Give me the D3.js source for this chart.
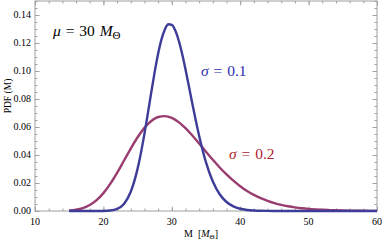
<html>
<style>
  body { margin:0; background:#fff; }
</style>
<script src="https://d3js.org/d3.v7.min.js" charset="utf-8"></script>
<body>
<div class="chart"></div>
<script>
  // data
  var massA = [15,16,17,18,19,20,21,22,23,24,25,26,26.5,27,27.5,28,28.5,29,29.5,30,30.5,31,31.5,32,32.5,33,33.5,34,35,36,37,38,39,40,41,42,43,44,45,46,48,50,55,60];
  var pdfSigma01 = [0,0,0,0,0.000006,0.00005,0.00033,0.00148,0.00508,0.01379,0.03028,0.05511,0.06975,0.08482,0.09935,0.11231,0.12273,0.12988,0.13334,0.13298,0.12903,0.12196,0.11244,0.10123,0.08911,0.07676,0.06479,0.05361,0.03474,0.02103,0.01196,0.00642,0.00327,0.00159,0.00074,0.00033,0.00014,0.00006,0.00002,0,0,0,0,0];
  var massB = d3.range(15, 61);
  var pdfSigma02 = [0.00033,0.00089,0.00208,0.00425,0.00774,0.01278,0.01937,0.02723,0.03589,0.04460,0.05266,0.05939,0.06431,0.06713,0.06780,0.06649,0.06349,0.05917,0.05396,0.04823,0.04234,0.03657,0.03111,0.02611,0.02164,0.01772,0.01427,0.01154,0.00918,0.00725,0.00568,0.00442,0.00342,0.00263,0.00201,0.00153,0.00116,0.00087,0.00066,0.00049,0.00037,0.00027,0.00020,0.00015,0.00011,0.00008];
  var xTicks = [10,20,30,40,50,60];
  var yTicks = [0,0.02,0.04,0.06,0.08,0.10,0.12,0.14];

  //************************************************************
  // Configuration
  //************************************************************
  var W = 382, H = 242;
  var margin = { top: 1, right: 5, bottom: 31, left: 35 };
  var width = W - margin.left - margin.right;
  var height = H - margin.top - margin.bottom;
  var serif = "'Liberation Serif', 'Times New Roman', Times, 'DejaVu Serif', serif";

  var svg = d3.select(".chart").append("svg")
      .attr("width", W)
      .attr("height", H)
      .attr("font-family", serif);

  var g = svg.append("g")
      .attr("transform", "translate(" + margin.left + "," + margin.top + ")");

  var x = d3.scaleLinear().domain([10, 60]).range([0, width]);
  var y = d3.scaleLinear().domain([0, 0.15]).range([height, 0]);

  var frameColor = "#a0a0a0";

  //frame ticks, inward on every side
  var xMinor = d3.range(10, 61, 2);
  var yMinor = d3.range(0, 0.1501, 0.005);

  function frameAxis(axis, scale, ticks, len, tx) {
    g.append("g")
      .attr("transform", tx)
      .call(axis(scale).tickValues(ticks).tickSizeInner(-len).tickSizeOuter(0).tickFormat(""))
      .call(function(s) {
        s.select(".domain").remove();
        s.selectAll("line").attr("stroke", frameColor);
      });
  }
  frameAxis(d3.axisBottom, x, xMinor, 2.5, "translate(0," + height + ")");
  frameAxis(d3.axisBottom, x, xTicks, 4.5, "translate(0," + height + ")");
  frameAxis(d3.axisTop, x, xMinor, 2.5, "translate(0,0)");
  frameAxis(d3.axisTop, x, xTicks, 4.5, "translate(0,0)");
  frameAxis(d3.axisLeft, y, yMinor, 2.5, "translate(0,0)");
  frameAxis(d3.axisLeft, y, yTicks, 4.5, "translate(0,0)");
  frameAxis(d3.axisRight, y, yMinor, 2.5, "translate(" + width + ",0)");
  frameAxis(d3.axisRight, y, yTicks, 4.5, "translate(" + width + ",0)");

  g.append("rect")
    .attr("width", width)
    .attr("height", height)
    .attr("fill", "none")
    .attr("stroke", frameColor)
    .attr("stroke-width", 1);

  //tick labels
  g.selectAll("text.xl")
    .data(xTicks)
    .enter().append("text")
    .attr("class", "xl")
    .attr("x", function(d) { return x(d); })
    .attr("y", height + 14)
    .attr("text-anchor", "middle")
    .attr("font-size", "10px")
    .text(function(d) { return d; });

  g.selectAll("text.yl")
    .data(yTicks)
    .enter().append("text")
    .attr("class", "yl")
    .attr("x", -4)
    .attr("y", function(d) { return y(d); })
    .attr("dy", "0.33em")
    .attr("text-anchor", "end")
    .attr("font-size", "10px")
    .text(function(d) { return d3.format(".2f")(d); });

  //curves
  var line = d3.line()
    .x(function(d) { return x(d[0]); })
    .y(function(d) { return y(d[1]); })
    .curve(d3.curveMonotoneX);

  g.append("path")
    .datum(d3.zip(massB, pdfSigma02))
    .attr("d", line)
    .attr("fill", "none")
    .attr("stroke", "#993d71")
    .attr("stroke-width", 2.4)
    .attr("stroke-linejoin", "round");

  g.append("path")
    .datum(d3.zip(massA, pdfSigma01))
    .attr("d", line)
    .attr("fill", "none")
    .attr("stroke", "#3d3d99")
    .attr("stroke-width", 2.4)
    .attr("stroke-linejoin", "round");

  //axis titles
  var xt = svg.append("text")
    .attr("x", 201)
    .attr("y", 237)
    .attr("text-anchor", "middle")
    .attr("font-size", "10px");
  xt.append("tspan").text("M\u00a0\u00a0[");
  xt.append("tspan").attr("font-style", "italic").text("M");
  xt.append("tspan").attr("font-size", "7px").attr("dy", 2).text("\u0398");
  xt.append("tspan").attr("dy", -2).text("]");

  svg.append("text")
    .attr("transform", "translate(11,96) rotate(-90)")
    .attr("text-anchor", "middle")
    .attr("font-size", "9.5px")
    .text("PDF (M)");

  //annotations
  var t1 = svg.append("text")
    .attr("x", 53)
    .attr("y", 36)
    .attr("font-size", "15.5px")
    .attr("word-spacing", "1px")
    .attr("fill", "#000");
  t1.append("tspan").attr("font-style", "italic").text("\u03bc");
  t1.append("tspan").text(" = 30 ");
  t1.append("tspan").attr("font-style", "italic").text("M");
  t1.append("tspan").attr("font-size", "11px").attr("dy", 3).text("\u0398");

  var t2 = svg.append("text")
    .attr("x", 201)
    .attr("y", 76)
    .attr("font-size", "15.5px")
    .attr("word-spacing", "1px")
    .attr("fill", "#2e2eb0");
  t2.append("tspan").attr("font-style", "italic").text("\u03c3");
  t2.append("tspan").text(" = 0.1");

  var t3 = svg.append("text")
    .attr("x", 229)
    .attr("y", 159)
    .attr("font-size", "15.5px")
    .attr("word-spacing", "1px")
    .attr("fill", "#b0222e");
  t3.append("tspan").attr("font-style", "italic").text("\u03c3");
  t3.append("tspan").text(" = 0.2");
</script>
</body>
</html>
